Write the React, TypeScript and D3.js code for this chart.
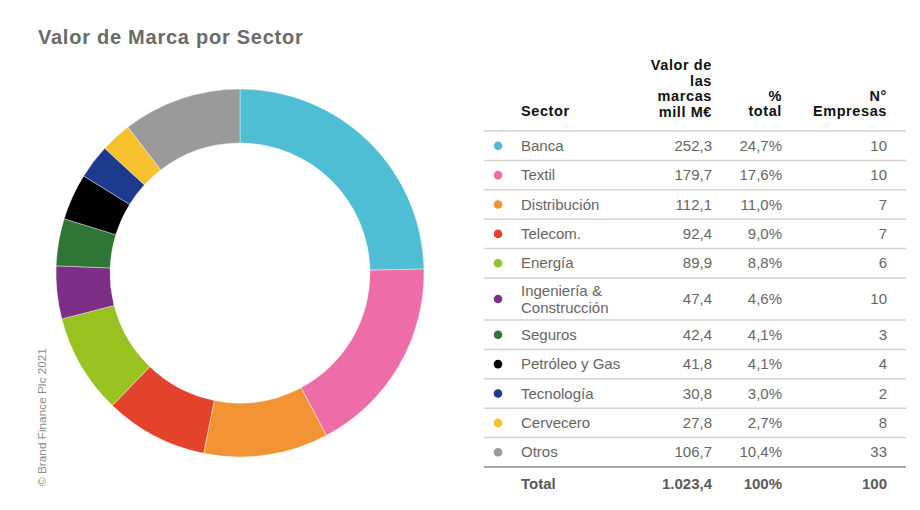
import React from "react";
import * as d3 from "d3";

const sectors = [
  "Banca",
  "Textil",
  "Distribución",
  "Telecom.",
  "Energía",
  "Ingeniería & Construcción",
  "Seguros",
  "Petróleo y Gas",
  "Tecnología",
  "Cervecero",
  "Otros",
];
const values = [252.3, 179.7, 112.1, 92.4, 89.9, 47.4, 42.4, 41.8, 30.8, 27.8, 106.7];
const valueLabels = ["252,3", "179,7", "112,1", "92,4", "89,9", "47,4", "42,4", "41,8", "30,8", "27,8", "106,7"];
const pctLabels = ["24,7%", "17,6%", "11,0%", "9,0%", "8,8%", "4,6%", "4,1%", "4,1%", "3,0%", "2,7%", "10,4%"];
const companies = [10, 10, 7, 7, 6, 10, 3, 4, 2, 8, 33];
const colors = [
  "#4fbdd4",
  "#ee6ca8",
  "#f29434",
  "#e3432b",
  "#98c21f",
  "#7d2f88",
  "#2f7536",
  "#000000",
  "#1e3a8c",
  "#f6c12c",
  "#9a9a9a",
];
const totalLabels = ["Total", "1.023,4", "100%", "100"];

const W = 920;
const H = 510;

export default function App() {
  const cx = 240;
  const cy = 273;
  const pie = d3.pie<number>().sort(null).value((d) => d)(values);
  const arc = d3.arc<d3.PieArcDatum<number>>().innerRadius(130).outerRadius(184);

  const xLineL = 484;
  const xLineR = 906;
  const xDot = 498;
  const xText = 521;
  const xVal = 712;
  const xPct = 782;
  const xNum = 887;
  const rowH = 29.4;
  const rowH2 = 42;
  const top = 131;

  const splitName = (s: string) =>
    s.includes(" & ") ? [s.split(" & ")[0] + " &", s.split(" & ")[1]] : [s];

  let y = top;
  const rows = sectors.map((s, i) => {
    const lines = splitName(s);
    const h = lines.length > 1 ? rowH2 : rowH;
    const r = { y0: y, h, lines, i };
    y += h;
    return r;
  });
  const totalY = y;

  const font = "'Liberation Sans', Arial, Helvetica, sans-serif";
  const bodyColor = "#666666";

  return (
    <svg
      width={W}
      height={H}
      style={{ position: "absolute", left: 0, top: 0, background: "#fff" }}
      fontFamily={font}
    >
      <rect width={W} height={H} fill="#fff" />
      <text x={38} y={44} fontSize={20} fontWeight="bold" fill="#6a6a6a" letterSpacing={0.75}>
        Valor de Marca por Sector
      </text>
      <g transform={`translate(${cx},${cy})`}>
        {pie.map((p, i) => (
          <path key={i} d={arc(p) || ""} fill={colors[i]} stroke="#fff" strokeWidth={0.4} />
        ))}
      </g>
      <text
        transform="translate(46,486) rotate(-90)"
        fontSize={11.8}
        fill="#8a8a8a"
      >
        © Brand Finance Plc 2021
      </text>

      {/* header */}
      <g fontSize={14.5} fontWeight="bold" fill="#111" letterSpacing={0.6}>
        <text x={xText} y={116}>Sector</text>
        {["Valor de", "las", "marcas", "mill M€"].map((t, k) => (
          <text key={k} x={xVal} y={70 + k * 15.5} textAnchor="end">
            {t}
          </text>
        ))}
        {["%", "total"].map((t, k) => (
          <text key={k} x={xPct} y={100.5 + k * 15.5} textAnchor="end">
            {t}
          </text>
        ))}
        {["N°", "Empresas"].map((t, k) => (
          <text key={k} x={xNum} y={100.5 + k * 15.5} textAnchor="end">
            {t}
          </text>
        ))}
      </g>
      <line x1={xLineL} x2={xLineR} y1={top} y2={top} stroke="#cfcfcf" strokeWidth={1.5} />

      {rows.map((r) => {
        const mid = r.y0 + r.h / 2;
        return (
          <g key={r.i} fontSize={15} fill={bodyColor}>
            <circle cx={xDot} cy={mid} r={4.3} fill={colors[r.i]} />
            {r.lines.map((l, k) => (
              <text
                key={k}
                x={xText}
                y={mid + 5 + (k - (r.lines.length - 1) / 2) * 17}
              >
                {l}
              </text>
            ))}
            <text x={xVal} y={mid + 5} textAnchor="end">{valueLabels[r.i]}</text>
            <text x={xPct} y={mid + 5} textAnchor="end">{pctLabels[r.i]}</text>
            <text x={xNum} y={mid + 5} textAnchor="end">{companies[r.i]}</text>
            <line
              x1={xLineL}
              x2={xLineR}
              y1={r.y0 + r.h}
              y2={r.y0 + r.h}
              stroke={r.i === sectors.length - 1 ? "#8a8a8a" : "#d2d2d2"}
              strokeWidth={1.5}
            />
          </g>
        );
      })}
      <g fontSize={15} fontWeight="bold" fill="#5a5a5a">
        <text x={xText} y={totalY + 22}>{totalLabels[0]}</text>
        <text x={xVal} y={totalY + 22} textAnchor="end">{totalLabels[1]}</text>
        <text x={xPct} y={totalY + 22} textAnchor="end">{totalLabels[2]}</text>
        <text x={xNum} y={totalY + 22} textAnchor="end">{totalLabels[3]}</text>
      </g>
    </svg>
  );
}
